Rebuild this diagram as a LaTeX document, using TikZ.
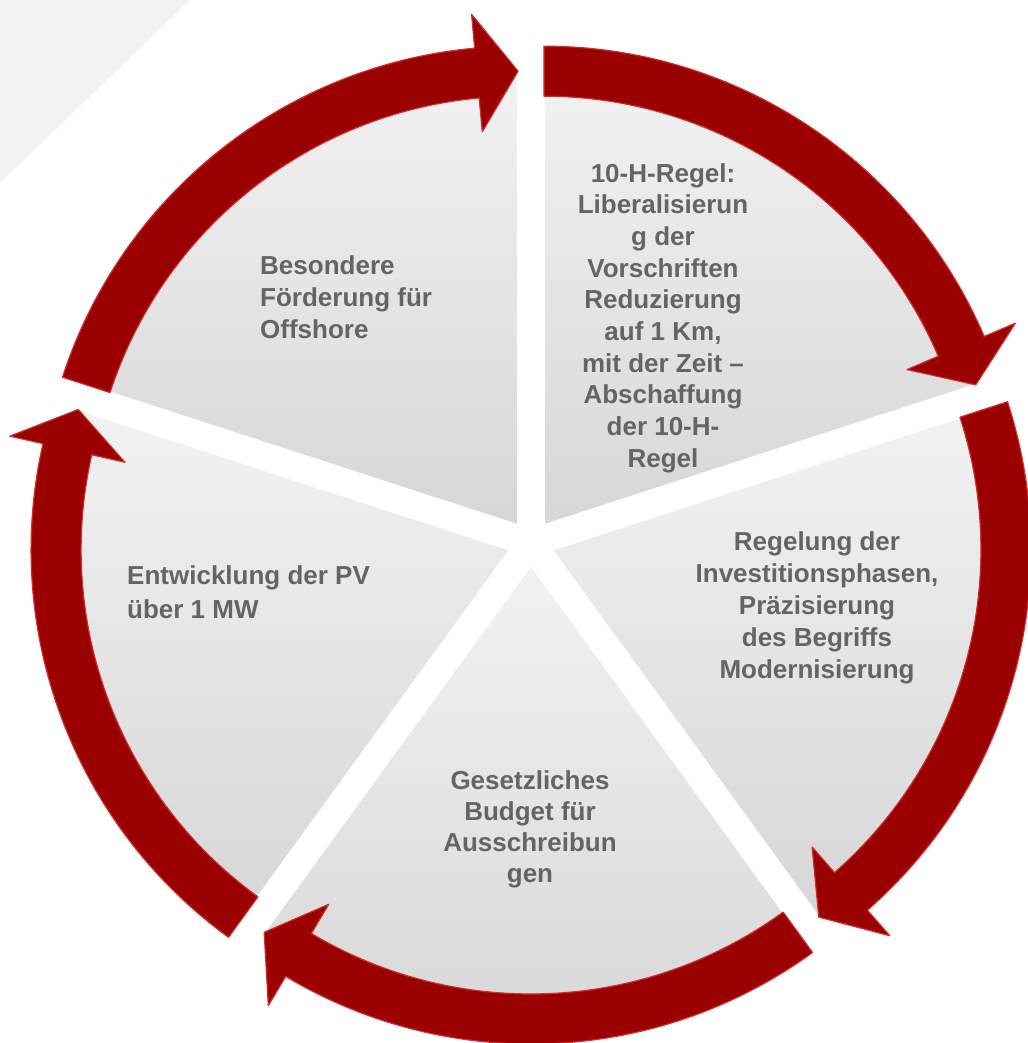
\documentclass[tikz,border=0pt]{standalone}
\usepackage{fontspec}
\setmainfont{Liberation Sans}
\definecolor{arrowred}{RGB}{155,0,0}
\definecolor{arrowedge}{RGB}{205,45,45}
\definecolor{labelgray}{RGB}{100,100,100}
\definecolor{backgray}{RGB}{242,242,242}

\begin{document}
\begin{tikzpicture}[x=1pt, y=1pt,
    segment/.style={top color=black!5, bottom color=black!16, draw=white, line width=2pt},
    cyclearrow/.style={fill=arrowred, draw=arrowedge, line width=1.2pt, line join=round},
    itemtext/.style={text=labelgray, font=\fontsize{26}{32}\selectfont\bfseries, inner sep=0pt}]
    \useasboundingbox (0,0) rectangle (1027,1043);
    \fill[backgray] (0,1043) -- (190,1043) -- (0,860) -- cycle;
    \coordinate (C) at (531,500);

    % pie segments
    \foreach \b in {54,-18,-90,-162,126} {
        \begin{scope}[shift={(C)}, shift={(\b:22)}]
            \path[segment] (0,0) -- (\b+36:454)
                arc[start angle=\b+36, end angle=\b-36, radius=454] -- cycle;
        \end{scope}
    }

    % curved arrows round the segments
    \foreach \b in {54,-18,-90,-162,126} {
        \begin{scope}[shift={(C)}, shift={(\b:22)}]
            \path[cyclearrow] (\b+36:479)
                arc[start angle=\b+36, end angle=\b-30.8, radius=479]
                -- (\b-30.8:513) -- (\b-36:454) -- (\b-30.8:395) -- (\b-30.8:429)
                arc[start angle=\b-30.8, end angle=\b+36, radius=429] -- cycle;
        \end{scope}
    }

    \node(offshore)[itemtext, anchor=west, align=left] at (260,745.5)
        {Besondere\\Förderung für\\Offshore};
    \node(zehnh)[itemtext, align=center, font=\fontsize{26}{31.7}\selectfont\bfseries] at (663,725)
        {10-H-Regel:\\Liberalisierun\\g der\\Vorschriften\\Reduzierung\\auf 1 Km,\\mit der Zeit –\\Abschaffung\\der 10-H-\\Regel};
    \node(regelung)[itemtext, align=center] at (817,435)
        {Regelung der\\Investitionsphasen,\\Präzisierung\\des Begriffs\\Modernisierung};
    \node(budget)[itemtext, align=center, font=\fontsize{26}{31}\selectfont\bfseries] at (530,214)
        {Gesetzliches\\Budget für\\Ausschreibun\\gen};
    \node(pv)[itemtext, anchor=west, align=left, font=\fontsize{26}{34}\selectfont\bfseries] at (127,451)
        {Entwicklung der PV\\über 1 MW};
\end{tikzpicture}
\end{document}
